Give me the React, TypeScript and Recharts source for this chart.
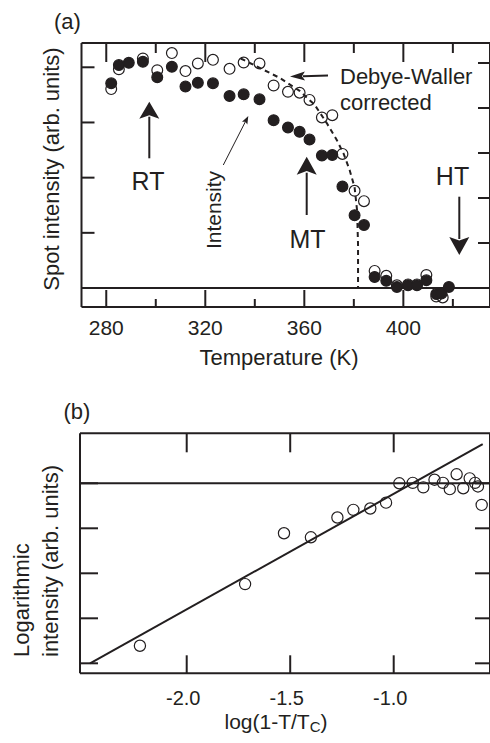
import React from 'react'
import { ComposedChart, Scatter, XAxis, YAxis, ReferenceLine } from 'recharts'

const INK = '#231f20'
const FONT = '"Liberation Sans", Arial, Helvetica, sans-serif'

// (a) spot intensity vs temperature
const tempFilled = [282.0, 285.1, 289.1, 294.8, 300.6, 306.5, 312.0, 317.0, 323.1, 329.8, 335.5, 341.9, 347.6, 353.4, 358.1, 362.1, 367.1, 371.3, 375.4, 380.3, 384.1, 388.4, 393.1, 397.4, 401.9, 405.5, 409.3, 413.3, 415.4, 418.4]
const intensity = [3.71, 4.04, 4.08, 4.10, 3.82, 4.01, 3.65, 3.72, 3.71, 3.48, 3.51, 3.42, 3.04, 2.91, 2.83, 2.69, 2.40, 2.41, 1.84, 1.32, 1.14, 0.20, 0.13, 0.02, 0.05, 0.05, 0.14, -0.11, -0.10, 0.02]

const tempOpen = [282.0, 285.1, 294.8, 300.6, 306.5, 312.0, 317.0, 323.1, 329.8, 335.5, 341.9, 347.6, 353.4, 358.1, 362.1, 367.1, 371.3, 375.4, 380.3, 384.1, 388.4, 393.1, 397.4, 401.9, 405.5, 409.3, 413.3, 415.9]
const corrected = [4.42, 4.86, 5.10, 4.84, 5.22, 4.82, 4.99, 5.07, 4.87, 5.01, 4.99, 4.50, 4.36, 4.34, 4.18, 3.79, 3.84, 2.98, 2.16, 1.93, 0.38, 0.27, 0.06, 0.08, 0.08, 0.29, -0.19, -0.21]

// dashed guide through the corrected data
const guideTemp = [334.3, 342.0, 350.0, 358.1, 364.2, 369.0, 373.1, 375.9, 378.3, 380.3, 381.3, 381.7, 381.7]
const guideValue = [5.10, 4.89, 4.67, 4.38, 4.07, 3.67, 3.29, 2.98, 2.62, 2.24, 1.73, 0.96, 0]

const tempTicks = [280, 300, 320, 340, 360, 380, 400, 420]
const leftTicks = [0, 1, 2, 3, 4]
const rightTicks = [0, 1, 2, 3, 4, 5]

// (b) logarithmic plot
const logX = [-2.226, -1.718, -1.530, -1.400, -1.272, -1.195, -1.113, -1.037, -0.973, -0.908, -0.857, -0.803, -0.762, -0.729, -0.696, -0.664, -0.633, -0.607, -0.593, -0.575]
const logY = [0.39, 1.76, 2.89, 2.80, 3.24, 3.41, 3.44, 3.57, 4.00, 4.01, 3.91, 4.08, 4.01, 3.87, 4.20, 3.89, 4.11, 4.01, 3.93, 3.52]
const fitX = [-2.467, -0.570]
const fitY = [0.0, 4.87]

const logTicks = [-2.0, -1.5, -1.0]
const logYTicks = [0, 1, 2, 3, 4]

const pts = (xs: number[], ys: number[]) => xs.map((x, i) => ({ x, y: ys[i] }))

// ticks drawn inward from the axis line
const xTick = (dir: number, major: number, minor: number, isMajor: (v: number) => boolean, label?: { dy: number; dx: number; size: number; fmt: (v: number) => string }) =>
  (p: any) => {
    const big = isMajor(p.payload.value)
    return (
      <g>
        <line x1={p.x} x2={p.x} y1={p.y} y2={p.y + dir * (big ? major : minor)} stroke={INK} strokeWidth={2} />
        {label && big && (
          <text x={p.x + label.dx} y={p.y + label.dy} textAnchor="middle" fontSize={label.size} fontFamily={FONT} fill={INK}>
            {label.fmt(p.payload.value)}
          </text>
        )}
      </g>
    )
  }

const yTick = (dir: number, len: number) => (p: any) => (
  <line x1={p.x} x2={p.x + dir * len} y1={p.y} y2={p.y} stroke={INK} strokeWidth={2} />
)

const dot = (r: number, filled: boolean) => (p: any) => (
  <circle cx={p.cx} cy={p.cy} r={r} fill={filled ? INK : 'none'} stroke={INK} strokeWidth={1.2} />
)
const noDot = () => <g />

function Arrow({ x1, y1, x2, y2, head, half, width }: { x1: number; y1: number; x2: number; y2: number; head: number; half: number; width: number }) {
  const len = Math.hypot(x2 - x1, y2 - y1)
  const ux = (x2 - x1) / len
  const uy = (y2 - y1) / len
  const bx = x2 - ux * head
  const by = y2 - uy * head
  return (
    <g>
      <line x1={x1} y1={y1} x2={bx + ux * 2} y2={by + uy * 2} stroke={INK} strokeWidth={width} />
      <polygon points={`${x2},${y2} ${bx - uy * half},${by + ux * half} ${bx + ux * head * 0.2},${by + uy * head * 0.2} ${bx + uy * half},${by - ux * half}`} fill={INK} />
    </g>
  )
}

export default function App() {
  const axisLine = { stroke: INK, strokeWidth: 2 }
  const txt = { fontFamily: FONT, fill: INK }
  return (
    <div style={{ position: 'absolute', left: 0, top: 0, width: 490, height: 743, background: '#fff', overflow: 'hidden' }}>
      <div style={{ position: 'absolute', left: 0, top: 0 }}>
        <ComposedChart width={491} height={380} margin={{ top: 42, right: 0, bottom: 72, left: 80.5 }}>
          <XAxis xAxisId="b" type="number" dataKey="x" domain={[270, 435]} ticks={tempTicks} interval={0} height={1}
            tickSize={0} tickMargin={0} tickLine={false} axisLine={axisLine} allowDataOverflow
            tick={xTick(-1, 17, 8, (v) => v % 40 === 0, { dx: 0, dy: 28, size: 21, fmt: (v) => String(v) })} />
          <XAxis xAxisId="t" orientation="top" type="number" dataKey="x" domain={[270, 435]} ticks={tempTicks} interval={0} height={1}
            tickSize={0} tickMargin={0} tickLine={false} axisLine={axisLine} allowDataOverflow
            tick={xTick(1, 19, 10, (v) => v % 40 === 0)} />
          <YAxis yAxisId="L" type="number" dataKey="y" domain={[-0.344, 4.44]} ticks={leftTicks} interval={0} width={1}
            tickSize={0} tickMargin={0} tickLine={false} axisLine={axisLine} allowDataOverflow tick={yTick(1, 13)} />
          <YAxis yAxisId="R" orientation="right" type="number" dataKey="y" domain={[-0.422, 5.444]} ticks={rightTicks} interval={0} width={1}
            tickSize={0} tickMargin={0} tickLine={false} axisLine={axisLine} allowDataOverflow tick={yTick(-1, 12)} />
          <ReferenceLine xAxisId="b" yAxisId="L" y={0} stroke={INK} strokeWidth={2} />
          <Scatter xAxisId="t" yAxisId="R" data={pts(tempOpen, corrected)} shape={dot(5.4, false)} isAnimationActive={false} />
          <Scatter xAxisId="t" yAxisId="R" data={pts(guideTemp, guideValue)} shape={noDot}
            line={{ stroke: INK, strokeWidth: 2, strokeDasharray: '5 4' }} isAnimationActive={false} />
          <Scatter xAxisId="b" yAxisId="L" data={pts(tempFilled, intensity)} shape={dot(5.4, true)} isAnimationActive={false} />
        </ComposedChart>
      </div>
      <div style={{ position: 'absolute', left: 0, top: 380 }}>
        <ComposedChart width={491} height={363} margin={{ top: 52.3, right: 0, bottom: 68.7, left: 79 }}>
          <XAxis xAxisId="b" type="number" dataKey="x" domain={[-2.5155, -0.5348]} ticks={logTicks} interval={0} height={1}
            tickSize={0} tickMargin={0} tickLine={false} axisLine={axisLine} allowDataOverflow
            tick={xTick(-1, 18, 18, () => true, { dx: -3.5, dy: 32, size: 20, fmt: (v) => v.toFixed(1) })} />
          <XAxis xAxisId="t" orientation="top" type="number" dataKey="x" domain={[-2.5155, -0.5348]} ticks={logTicks} interval={0} height={1}
            tickSize={0} tickMargin={0} tickLine={false} axisLine={axisLine} allowDataOverflow
            tick={xTick(1, 19, 19, () => true)} />
          <YAxis yAxisId="L" type="number" dataKey="y" domain={[-0.222, 5.111]} ticks={logYTicks} interval={0} width={1}
            tickSize={0} tickMargin={0} tickLine={false} axisLine={axisLine} allowDataOverflow tick={yTick(1, 18)} />
          <YAxis yAxisId="R" orientation="right" type="number" dataKey="y" domain={[-0.222, 5.111]} ticks={logYTicks} interval={0} width={1}
            tickSize={0} tickMargin={0} tickLine={false} axisLine={axisLine} allowDataOverflow tick={yTick(-1, 15)} />
          <ReferenceLine xAxisId="b" yAxisId="L" y={4} stroke={INK} strokeWidth={2} />
          <Scatter xAxisId="b" yAxisId="L" data={pts(fitX, fitY)} shape={noDot}
            line={{ stroke: INK, strokeWidth: 2 }} isAnimationActive={false} />
          <Scatter xAxisId="t" yAxisId="R" data={pts(logX, logY)} shape={dot(5.6, false)} isAnimationActive={false} />
        </ComposedChart>
      </div>
      <svg width={490} height={743} style={{ position: 'absolute', left: 0, top: 0, pointerEvents: 'none' }}>
        <text x={67.5} y={28.5} textAnchor="middle" fontSize={22} {...txt}>(a)</text>
        <text x={77} y={418.5} textAnchor="middle" fontSize={22} {...txt}>(b)</text>
        <text x={279} y={365} textAnchor="middle" fontSize={22} {...txt}>Temperature (K)</text>
        <text transform="translate(58.5,169) rotate(-90)" textAnchor="middle" fontSize={22} {...txt}>Spot intensity (arb. units)</text>
        <text transform="translate(28.5,657) rotate(-90)" textAnchor="start" fontSize={22} {...txt}>Logarithmic</text>
        <text transform="translate(57.5,657) rotate(-90)" textAnchor="start" fontSize={22} {...txt}>intensity (arb. units)</text>
        <text x={276} y={729} textAnchor="middle" fontSize={21} {...txt}>
          log(1-T/T<tspan fontSize={15} dy={3}>C</tspan><tspan dy={-3}>)</tspan>
        </text>

        <text x={340} y={84} fontSize={22} {...txt}>Debye-Waller</text>
        <text x={340} y={110} fontSize={22} {...txt}>corrected</text>
        <Arrow x1={328} y1={75.5} x2={290} y2={76.5} head={15} half={4.5} width={2} />

        <text x={148} y={190} textAnchor="middle" fontSize={25} {...txt}>RT</text>
        <Arrow x1={149.3} y1={158.3} x2={149.3} y2={101.7} head={17} half={10} width={2} />

        <text x={307.5} y={248} textAnchor="middle" fontSize={25} {...txt}>MT</text>
        <Arrow x1={306.7} y1={215} x2={306.7} y2={156.7} head={18} half={10} width={2} />

        <text x={452.5} y={185} textAnchor="middle" fontSize={25} {...txt}>HT</text>
        <Arrow x1={459.3} y1={196.7} x2={459.3} y2={255} head={18} half={10} width={2} />

        <text transform="translate(220.5,210) rotate(-90)" textAnchor="middle" fontSize={21} {...txt}>Intensity</text>
        <Arrow x1={223.3} y1={165} x2={248.3} y2={116} head={8} half={3} width={1} />
      </svg>
    </div>
  )
}
